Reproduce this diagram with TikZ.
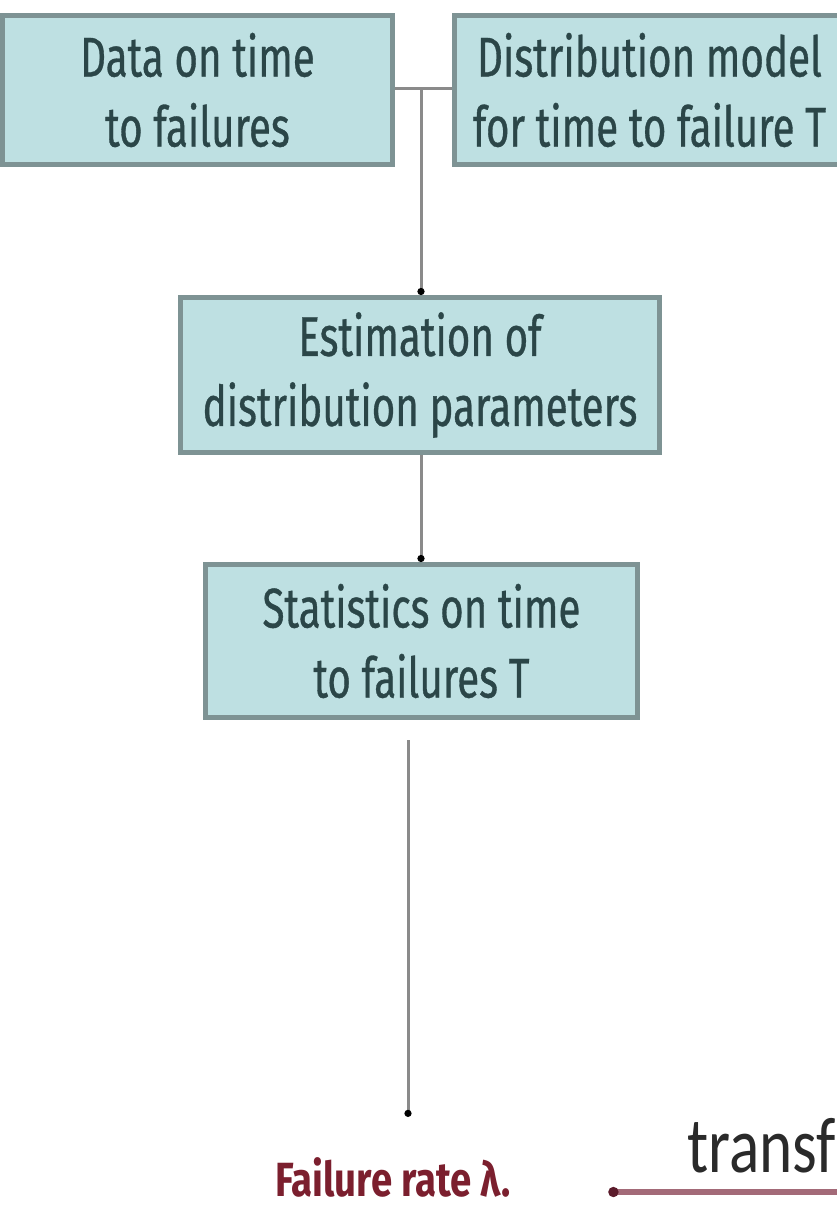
\documentclass[tikz,border=0pt]{standalone}
\usepackage{fontspec}
\usetikzlibrary{arrows.meta,calc}
\newfontfamily\boxfont[FakeStretch=0.72,FakeBold=0.6]{Fira Sans}
\newfontfamily\redfont[FakeStretch=0.8]{Fira Sans}
\newfontfamily\bigfont[FakeStretch=0.8]{Carlito}
\definecolor{boxfill}{HTML}{BEE0E2}
\definecolor{boxline}{HTML}{7E9394}
\definecolor{boxtext}{HTML}{2B4648}
\definecolor{conngray}{HTML}{8A8A8A}
\definecolor{redtext}{HTML}{7B1F2E}
\definecolor{redline}{HTML}{A36A78}
\definecolor{reddot}{HTML}{5B1B2B}
\definecolor{bigtext}{HTML}{2A2A2A}
\tikzset{
  stepbox/.style={draw=boxline, fill=boxfill, line width=5pt, inner sep=0pt,
    align=center, text=boxtext, font=\boxfont\fontsize{56}{70}\selectfont},
  conn/.style={draw=conngray, line width=3pt, -{Circle[length=7pt,width=7pt,black]}},
  redconn/.style={draw=redline, line width=6pt, -{Circle[length=10pt,width=10pt,reddot]}}
}
\begin{document}
\begin{tikzpicture}[x=1pt,y=-1pt]
\useasboundingbox (0,0) rectangle (837,1207);
\clip (0,0) rectangle (837,1207);
\node[stepbox, minimum width=390pt, minimum height=149pt] (b1) at (197.5,90) {Data on time\\to failures};
\node[stepbox, minimum width=390pt, minimum height=149pt] (b2) at (649.5,90) {Distribution model\\for time to failure T};
\node[stepbox, minimum width=479pt, minimum height=155pt] (b3) at (420,375) {Estimation of\\distribution parameters};
\node[stepbox, minimum width=432pt, minimum height=153pt] (b4) at (421.5,641) {Statistics on time\\to failures T};
\node[inner sep=0pt, anchor=base west, text=redtext, font=\redfont\bfseries\fontsize{48}{56}\selectfont] (fr) at (275,1196) {Failure rate λ.};
\node[inner sep=0pt, anchor=base west, text=bigtext, font=\bigfont\fontsize{79}{90}\selectfont] (tr) at (687,1172) {transf};
\coordinate (J) at (421,88);
\coordinate (s1) at (408,740);
\coordinate (rs) at (860,1192);
\draw[draw=conngray, line width=3pt] (b1.east |- J) -- (b2.west |- J);
\draw[conn] (J) -- (J |- b3.north);
\draw[conn] (b3.south -| J) -- (J |- b4.north);
\draw[conn, shorten >=40pt] (s1) -- (s1 |- fr.north);
\draw[redconn, shorten >=97pt] (rs) -- (rs -| fr.east);
\end{tikzpicture}
\end{document}
